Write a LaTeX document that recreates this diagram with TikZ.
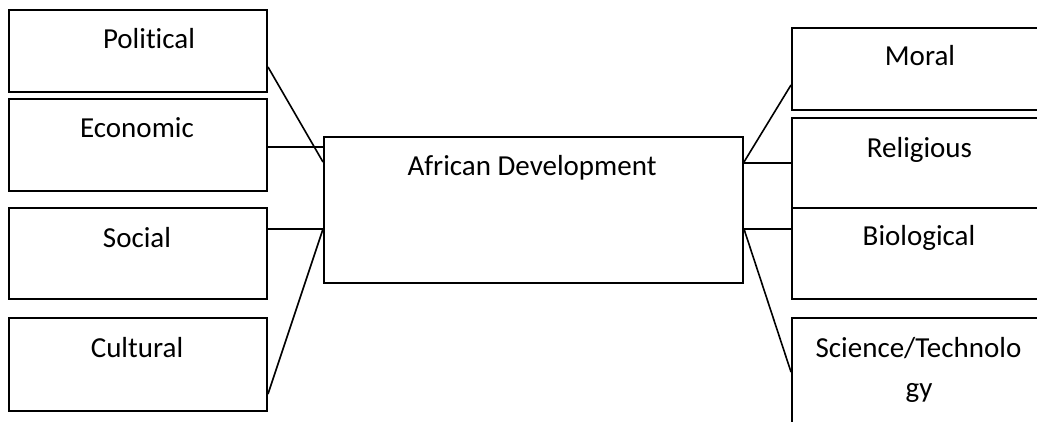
\documentclass[tikz,border=0pt]{standalone}
\usepackage{fontspec}
\setmainfont{Carlito}[Ligatures=NoCommon]
\begin{document}
\begin{tikzpicture}[x=1pt,y=-1pt,
  box/.style={draw=black, line width=2pt, rectangle, inner sep=0pt, anchor=north west},
  lbl/.style={anchor=base, inner sep=0pt, font=\fontsize{29}{35}\selectfont, text=black},
  conn/.style={draw=black, line width=1.6pt}]
\useasboundingbox (0,0) rectangle (1037,421);
\clip (0,0) rectangle (1037,421);
% left boxes
\node[box, minimum width=258pt, minimum height=82pt] (pol) at (8,9) {};
\node[box, minimum width=258pt, minimum height=92pt] (eco) at (8,98) {};
\node[box, minimum width=258pt, minimum height=91pt] (soc) at (8,207) {};
\node[box, minimum width=258pt, minimum height=93pt] (cul) at (8,317) {};
% centre
\node[box, minimum width=419pt, minimum height=146pt] (dev) at (323,136) {};
% right boxes
\node[box, minimum width=256pt, minimum height=82pt] (mor) at (791,27) {};
\node[box, minimum width=256pt, minimum height=90pt] (rel) at (791,117) {};
\node[box, minimum width=256pt, minimum height=91pt] (bio) at (791,207) {};
\node[box, minimum width=256pt, minimum height=120pt] (sci) at (791,317) {};
% labels
\node[lbl] (polt) at (149,48) {Political};
\node[lbl] (ecot) at (137,137) {Economic};
\node[lbl] (soct) at (137,247) {Social};
\node[lbl] (cult) at (137,357) {Cultural};
\node[lbl] (devt) at (532,175) {African Development};
\node[lbl] (mort) at (920,65) {Moral};
\node[lbl] (relt) at (919.5,157) {Religious};
\node[lbl] (biot) at (919,245) {Biological};
\node[lbl] (scit) at (918.5,357) {Science/Technolo};
\node[lbl] (scit2) at (919,397) {gy};
% connectors left
\draw[conn] ([yshift=26pt]pol.south east) -- ([yshift=-26pt]dev.north west);
\draw[conn] ([yshift=-49pt]eco.north east) -- ([yshift=-49pt]eco.north east -| dev.west);
\draw[conn] ([yshift=-22pt]soc.north east) -- ([yshift=-22pt]soc.north east -| dev.west);
\draw[conn] ([yshift=18pt]cul.south east) -- ([yshift=-93pt]dev.north west);
% connectors right
\draw[conn] ([yshift=-26pt]dev.north east) -- ([yshift=26pt]mor.south west);
\draw[conn] ([yshift=-46pt]rel.north west) -- ([yshift=-46pt]rel.north west -| dev.east);
\draw[conn] ([yshift=-22pt]bio.north west) -- ([yshift=-22pt]bio.north west -| dev.east);
\draw[conn] ([yshift=-93pt]dev.north east) -- ([yshift=-55pt]sci.north west);
\end{tikzpicture}
\end{document}
